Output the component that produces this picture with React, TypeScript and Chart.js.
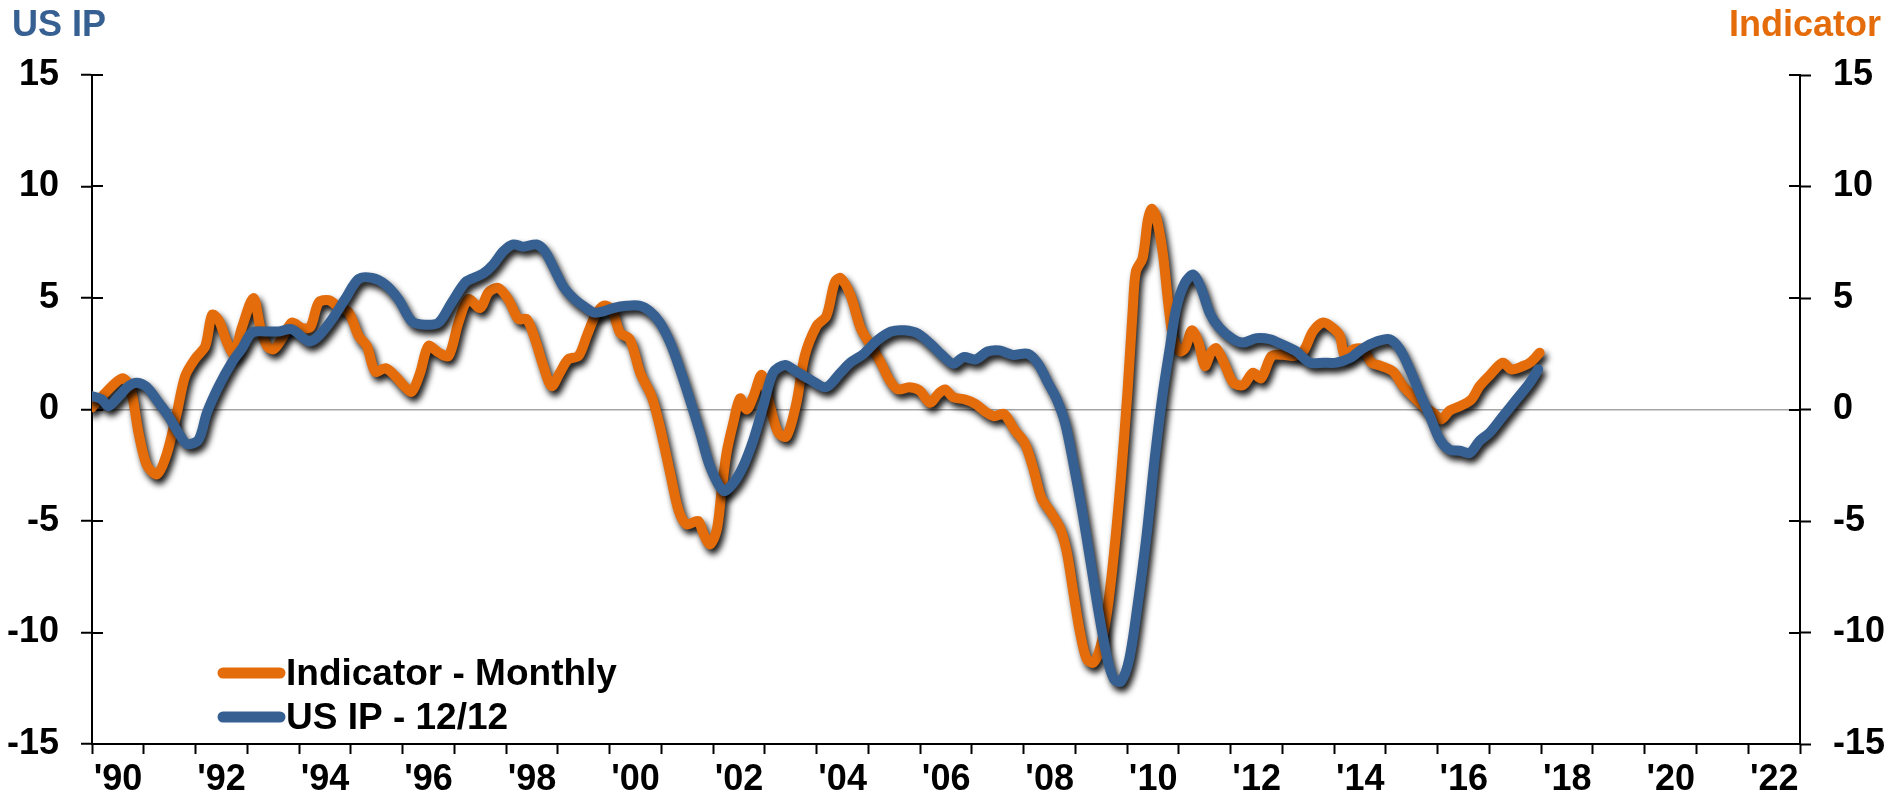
import React, { useEffect, useRef } from 'react';
import { Chart, registerables } from 'chart.js';

Chart.register(...registerables);

// ---------- data ----------
const indicatorYears = [
  1990.0, 1990.26, 1990.58, 1990.74, 1990.9, 1991.06, 1991.26, 1991.45, 1991.64, 1991.8,
  1992.0, 1992.19, 1992.32, 1992.45, 1992.61, 1992.74, 1992.9, 1993.12, 1993.25, 1993.38,
  1993.51, 1993.7, 1993.86, 1994.06, 1994.22, 1994.38, 1994.57, 1994.76, 1994.96, 1995.15,
  1995.31, 1995.47, 1995.67, 1995.86, 1996.05, 1996.18, 1996.34, 1996.5, 1996.7, 1996.89,
  1997.08, 1997.27, 1997.5, 1997.66, 1997.85, 1998.04, 1998.24, 1998.4, 1998.56, 1998.72,
  1998.88, 1999.04, 1999.2, 1999.4, 1999.56, 1999.72, 1999.88, 2000.04, 2000.2, 2000.39,
  2000.59, 2000.81, 2000.97, 2001.17, 2001.33, 2001.49, 2001.71, 2001.81, 2001.94, 2002.07,
  2002.16, 2002.26, 2002.39, 2002.52, 2002.65, 2002.78, 2002.94, 2003.1, 2003.26, 2003.42,
  2003.61, 2003.77, 2004.0, 2004.19, 2004.35, 2004.46, 2004.65, 2004.85, 2005.04, 2005.24,
  2005.4, 2005.57, 2005.79, 2005.99, 2006.19, 2006.35, 2006.48, 2006.64, 2006.87, 2007.07,
  2007.26, 2007.43, 2007.62, 2007.82, 2008.02, 2008.18, 2008.34, 2008.51, 2008.7, 2008.83,
  2008.96, 2009.09, 2009.22, 2009.35, 2009.49, 2009.62, 2009.75, 2009.88, 2010.01, 2010.11,
  2010.17, 2010.3, 2010.4, 2010.47, 2010.56, 2010.69, 2010.79, 2010.89, 2011.02, 2011.12,
  2011.25, 2011.38, 2011.5, 2011.62, 2011.72, 2011.87, 2012.05, 2012.24, 2012.43, 2012.59,
  2012.79, 2013.01, 2013.21, 2013.4, 2013.59, 2013.79, 2013.98, 2014.11, 2014.2, 2014.37,
  2014.56, 2014.72, 2014.91, 2015.14, 2015.33, 2015.52, 2015.72, 2015.91, 2016.07, 2016.23,
  2016.43, 2016.65, 2016.81, 2017.01, 2017.26, 2017.42, 2017.65, 2017.81, 2017.97,
];
const indicatorValues = [
  0.1, 0.75, 1.4, 1.0, -1.05, -2.5, -2.9, -1.95, -0.15, 1.5,
  2.3, 2.85, 4.25, 4.0, 3.0, 2.5, 3.7, 5.0, 3.7, 2.85,
  2.7, 3.3, 3.9, 3.65, 3.7, 4.8, 4.9, 4.6, 4.35, 3.3,
  2.85, 1.7, 1.85, 1.5, 1.0, 0.8, 1.65, 2.85, 2.55, 2.4,
  3.9, 4.95, 4.55, 5.25, 5.45, 4.95, 4.05, 4.05, 3.15, 1.95,
  1.05, 1.65, 2.25, 2.4, 3.3, 4.2, 4.65, 4.5, 3.45, 3.15,
  1.65, 0.6, -0.75, -2.85, -4.5, -5.15, -5.0, -5.55, -6.05, -5.4,
  -3.75, -1.95, -0.6, 0.5, 0.0, 0.6, 1.55, 0.15, -1.05, -1.2,
  0.3, 2.4, 3.75, 4.2, 5.7, 5.9, 5.15, 3.65, 2.9, 2.1,
  1.35, 0.9, 1.0, 0.85, 0.3, 0.7, 0.9, 0.55, 0.45, 0.25,
  -0.1, -0.3, -0.2, -0.9, -1.5, -2.6, -3.95, -4.55, -5.3, -6.35,
  -8.2, -10.0, -11.2, -11.35, -10.6, -8.95, -6.35, -3.05, 0.9, 4.55,
  6.2, 6.8, 8.5, 9.0, 8.65, 7.0, 4.85, 3.2, 2.6, 2.75,
  3.55, 3.0, 1.95, 2.55, 2.75, 2.1, 1.2, 1.1, 1.65, 1.4,
  2.4, 2.45, 2.4, 2.6, 3.5, 3.9, 3.65, 3.3, 2.45, 2.7,
  2.7, 2.1, 1.95, 1.7, 1.05, 0.6, 0.15, -0.15, -0.45, -0.05,
  0.15, 0.45, 1.05, 1.55, 2.1, 1.8, 1.95, 2.15, 2.55,
];

const usipYears = [
  1990.0, 1990.19, 1990.32, 1990.52, 1990.71, 1990.87, 1991.06, 1991.29, 1991.48, 1991.67,
  1991.84, 1992.06, 1992.22, 1992.45, 1992.7, 1992.9, 1993.09, 1993.35, 1993.61, 1993.86,
  1994.19, 1994.38, 1994.64, 1994.89, 1995.15, 1995.41, 1995.67, 1995.92, 1996.18, 1996.44,
  1996.7, 1996.95, 1997.21, 1997.37, 1997.56, 1997.75, 1997.95, 1998.14, 1998.33, 1998.59,
  1998.75, 1998.91, 1999.11, 1999.3, 1999.49, 1999.69, 1999.88, 2000.07, 2000.33, 2000.59,
  2000.78, 2000.97, 2001.17, 2001.36, 2001.55, 2001.75, 2001.94, 2002.2, 2002.39, 2002.58,
  2002.78, 2002.97, 2003.16, 2003.39, 2003.61, 2003.87, 2004.18, 2004.46, 2004.65, 2004.91,
  2005.17, 2005.44, 2005.7, 2005.96, 2006.22, 2006.42, 2006.64, 2006.84, 2007.07, 2007.3,
  2007.53, 2007.79, 2008.08, 2008.28, 2008.47, 2008.64, 2008.8, 2008.96, 2009.13, 2009.29,
  2009.45, 2009.62, 2009.75, 2009.88, 2010.04, 2010.2, 2010.37, 2010.53, 2010.69, 2010.82,
  2010.95, 2011.12, 2011.28, 2011.42, 2011.6, 2011.79, 2012.05, 2012.24, 2012.5, 2012.76,
  2013.01, 2013.27, 2013.53, 2013.79, 2014.04, 2014.3, 2014.56, 2014.82, 2015.07, 2015.27,
  2015.46, 2015.65, 2015.85, 2016.04, 2016.23, 2016.43, 2016.62, 2016.81, 2017.0, 2017.26,
  2017.52, 2017.78, 2017.94,
];
const usipValues = [
  0.6, 0.45, 0.15, 0.6, 1.05, 1.2, 1.0, 0.3, -0.3, -1.05,
  -1.55, -1.35, -0.15, 1.05, 2.1, 2.75, 3.45, 3.5, 3.5, 3.6,
  3.05, 3.3, 4.05, 4.95, 5.85, 5.9, 5.6, 4.95, 3.95, 3.8,
  3.9, 4.8, 5.7, 5.9, 6.1, 6.5, 7.1, 7.4, 7.3, 7.4,
  7.1, 6.4, 5.5, 5.0, 4.65, 4.35, 4.4, 4.55, 4.65, 4.65,
  4.4, 3.9, 3.0, 1.8, 0.45, -1.05, -2.55, -3.65, -3.3, -2.55,
  -1.35, 0.15, 1.65, 2.0, 1.7, 1.35, 1.0, 1.65, 2.1, 2.5,
  3.1, 3.5, 3.55, 3.4, 2.9, 2.45, 2.05, 2.35, 2.25, 2.6,
  2.65, 2.45, 2.5, 2.05, 1.2, 0.45, -0.6, -2.4, -4.55, -6.8,
  -9.1, -11.2, -12.1, -12.2, -11.2, -8.8, -5.75, -2.25, 0.75, 2.7,
  4.55, 5.7, 6.05, 5.5, 4.3, 3.65, 3.15, 3.0, 3.2, 3.15,
  2.9, 2.6, 2.1, 2.1, 2.1, 2.3, 2.75, 3.05, 3.15, 2.7,
  1.8, 0.75, -0.3, -1.35, -1.8, -1.85, -1.95, -1.4, -1.05, -0.3,
  0.45, 1.2, 1.8,
];

const seriesLabels = ['Indicator - Monthly', 'US IP - 12/12'];
const leftTitle = 'US IP';
const rightTitle = 'Indicator';
const xMin = 1990;
const xMax = 2023;
const yMin = -15;
const yMax = 15;
const yStep = 5;

// ---------- styles ----------
const ORANGE = '#E46C0A';
const BLUE = '#376092';
const FONT_FAMILY = "'Liberation Sans', Arial, Helvetica, sans-serif";
const W = 1891;
const H = 808;

function toPoints(xs: number[], ys: number[]) {
  return xs.map((x, i) => ({ x, y: ys[i] }));
}

const shadowPlugin = {
  id: 'lineShadow',
  beforeDatasetDraw(chart: any) {
    const ctx = chart.ctx;
    ctx.save();
    ctx.shadowColor = 'rgba(0,0,0,0.92)';
    ctx.shadowBlur = 6;
    ctx.shadowOffsetX = 3;
    ctx.shadowOffsetY = 5;
  },
  afterDatasetDraw(chart: any) {
    chart.ctx.restore();
  },
};

const innerTicksPlugin = {
  id: 'innerTicks',
  beforeDatasetsDraw(chart: any) {
    const ctx = chart.ctx;
    const { left, right } = chart.chartArea;
    ctx.save();
    ctx.strokeStyle = '#000';
    ctx.lineWidth = 2;
    const ys = chart.scales.y;
    ys.ticks.forEach((t: any) => {
      const py = Math.round(ys.getPixelForValue(t.value));
      ctx.beginPath();
      ctx.moveTo(left, py);
      ctx.lineTo(left + 11, py);
      ctx.stroke();
    });
    const ys2 = chart.scales.y2;
    ys2.ticks.forEach((t: any) => {
      const py = Math.round(ys2.getPixelForValue(t.value));
      ctx.beginPath();
      ctx.moveTo(right - 11, py);
      ctx.lineTo(right, py);
      ctx.stroke();
    });
    ctx.restore();
  },
};

const textPlugin = {
  id: 'titlesLegend',
  afterDraw(chart: any) {
    const ctx = chart.ctx;
    ctx.save();
    ctx.font = `bold 36px ${FONT_FAMILY}`;
    ctx.textBaseline = 'alphabetic';
    ctx.fillStyle = BLUE;
    ctx.textAlign = 'left';
    ctx.fillText(leftTitle, 12, 36);
    ctx.fillStyle = ORANGE;
    ctx.textAlign = 'right';
    ctx.fillText(rightTitle, 1881, 36);

    // legend
    const entries = chart.data.datasets
      .map((d: any) => d)
      .sort((a: any, b: any) => b.order - a.order);
    const { left, bottom } = chart.chartArea;
    ctx.font = `bold 37px ${FONT_FAMILY}`;
    ctx.textAlign = 'left';
    ctx.textBaseline = 'middle';
    entries.forEach((d: any, i: number) => {
      const cy = bottom - 71 + i * 44;
      const x0 = left + 131;
      ctx.strokeStyle = d.borderColor;
      ctx.lineWidth = 11;
      ctx.lineCap = 'round';
      ctx.beginPath();
      ctx.moveTo(x0, cy);
      ctx.lineTo(x0 + 57, cy);
      ctx.stroke();
      ctx.fillStyle = '#000';
      ctx.fillText(d.label, x0 + 63, cy + 2);
    });
    ctx.restore();
  },
};

export default function App() {
  const canvasRef = useRef<HTMLCanvasElement | null>(null);

  useEffect(() => {
    const canvas = canvasRef.current;
    if (!canvas) return;
    const tickFont = { family: FONT_FAMILY, size: 36, weight: 'bold' as const };
    const xTickValues: number[] = [];
    for (let v = xMin; v <= xMax; v++) xTickValues.push(v);

    const chart = new Chart(canvas, {
      type: 'line',
      data: {
        datasets: [
          {
            label: seriesLabels[1],
            data: toPoints(usipYears, usipValues),
            borderColor: BLUE,
            backgroundColor: BLUE,
            borderWidth: 10,
            pointRadius: 0,
            tension: 0.3,
            borderJoinStyle: 'round',
            borderCapStyle: 'round',
            yAxisID: 'y',
            order: 0,
          },
          {
            label: seriesLabels[0],
            data: toPoints(indicatorYears, indicatorValues),
            borderColor: ORANGE,
            backgroundColor: ORANGE,
            borderWidth: 10,
            pointRadius: 0,
            tension: 0.3,
            borderJoinStyle: 'round',
            borderCapStyle: 'round',
            yAxisID: 'y2',
            order: 1,
          },
        ] as any,
      },
      options: {
        animation: false,
        responsive: false,
        maintainAspectRatio: false,
        parsing: false as any,
        layout: { padding: { top: 75, left: 0, right: 0, bottom: 0 } },
        plugins: {
          legend: { display: false },
          tooltip: { enabled: false },
          title: { display: false },
        },
        scales: {
          x: {
            type: 'linear',
            position: 'bottom',
            min: xMin,
            max: xMax,
            afterFit: (s: any) => {
              s.height = 64;
            },
            afterBuildTicks: (s: any) => {
              s.ticks = xTickValues.map((v) => ({ value: v }));
            },
            ticks: {
              autoSkip: false,
              maxRotation: 0,
              minRotation: 0,
              labelOffset: 26,
              padding: 4,
              color: '#000',
              font: tickFont,
              callback: (v: any) => {
                const n = Number(v);
                if (n % 2 !== 0 || n >= xMax) return '';
                return "'" + String(n % 100).padStart(2, '0');
              },
            },
            grid: {
              drawOnChartArea: false,
              drawTicks: true,
              tickLength: 10,
              tickColor: '#000',
              tickWidth: 2,
            },
            border: { display: true, color: '#000', width: 2 },
          },
          y: {
            type: 'linear',
            position: 'left',
            min: yMin,
            max: yMax,
            afterFit: (s: any) => {
              s.width = 92;
            },
            ticks: { stepSize: yStep, padding: 22, color: '#000', font: tickFont },
            grid: {
              drawOnChartArea: true,
              color: (c: any) => (c.tick && c.tick.value === 0 ? '#a6a6a6' : 'rgba(0,0,0,0)'),
              lineWidth: 1.5,
              tickColor: '#000',
              tickWidth: 2,
              tickLength: 11,
            },
            border: { display: true, color: '#000', width: 2 },
          },
          y2: {
            type: 'linear',
            position: 'right',
            min: yMin,
            max: yMax,
            afterFit: (s: any) => {
              s.width = 91;
            },
            ticks: { stepSize: yStep, padding: 22, color: '#000', font: tickFont },
            grid: {
              drawOnChartArea: false,
              tickColor: '#000',
              tickWidth: 2,
              tickLength: 11,
            },
            border: { display: true, color: '#000', width: 2 },
          },
        } as any,
      },
      plugins: [innerTicksPlugin, shadowPlugin, textPlugin],
    });
    return () => {
      chart.destroy();
    };
  }, []);

  return (
    <div style={{ position: 'fixed', left: 0, top: 0, width: W, height: H, background: '#fff' }}>
      <canvas ref={canvasRef} width={W} height={H} style={{ display: 'block', width: W, height: H }} />
    </div>
  );
}
